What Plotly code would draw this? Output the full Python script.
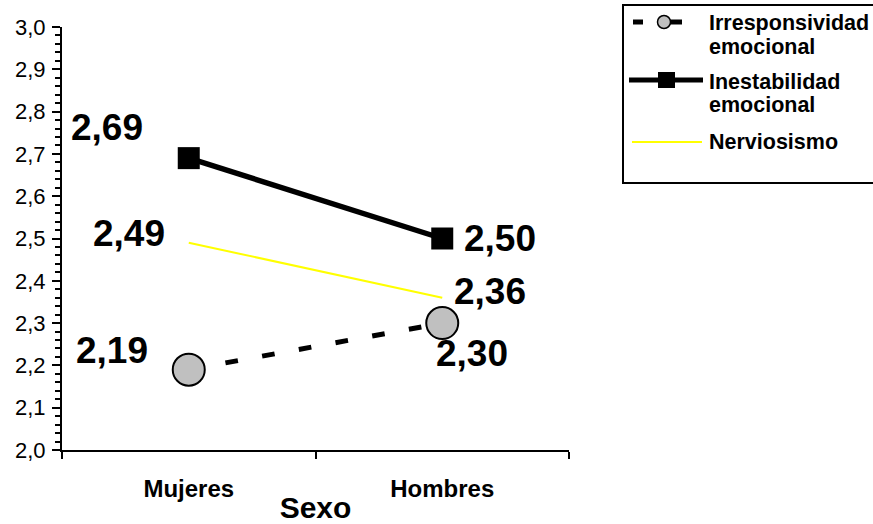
import plotly.graph_objects as go

# ---------------- data ----------------
categories = ["Mujeres", "Hombres"]
irresponsividad = [2.19, 2.30]
inestabilidad = [2.69, 2.50]
nerviosismo = [2.49, 2.36]
series_names = ["Irresponsividad<br>emocional", "Inestabilidad<br>emocional", "Nerviosismo"]
x_title = "Sexo"
y_range = [2.0, 3.0]

# ---------------- geometry ----------------
W, H = 873, 524
L, R, T, B = 62, 304, 27, 74
PW, PH = W - L - R, H - T - B
FONT = "Liberation Sans, Arial, sans-serif"


def pxx(x):
    return (x - L) / PW


def pxy(y):
    return (H - B - y) / PH


def fmt(v):
    return f"{v:.2f}".replace(".", ",")


fig = go.Figure()

fig.add_trace(go.Scatter(
    x=categories, y=nerviosismo, mode="lines", name=series_names[2],
    line=dict(color="#FFFF00", width=2), showlegend=False))
fig.add_trace(go.Scatter(
    x=categories, y=irresponsividad, mode="lines+markers", name=series_names[0],
    line=dict(color="black", width=5, dash="12.7px,24.6px"),
    marker=dict(symbol="circle", size=32, color="#C0C0C0", line=dict(color="black", width=2)),
    showlegend=False))
fig.add_trace(go.Scatter(
    x=categories, y=inestabilidad, mode="lines+markers", name=series_names[1],
    line=dict(color="black", width=5.5),
    marker=dict(symbol="square", size=22, color="black", line=dict(color="black", width=0)),
    showlegend=False))

# data labels
label_shifts = {
    "irr": [(-76.5, 19.6), (30, -30.5)],
    "ine": [(-81.5, 31), (58, 0)],
    "ner": [(-59.5, 9.7), (48, 6)],
}
annotations = []
for key, vals in (("irr", irresponsividad), ("ine", inestabilidad), ("ner", nerviosismo)):
    for i, v in enumerate(vals):
        dx, dy = label_shifts[key][i]
        annotations.append(dict(
            x=categories[i], y=v, xref="x", yref="y", text=f"<b>{fmt(v)}</b>",
            showarrow=False, xshift=dx, yshift=dy,
            font=dict(family=FONT, size=37, color="black")))

# legend (drawn manually to mimic the original box)
legend_text_pos = [(707, 23, "Irresponsividad"), (707, 47, "emocional"),
                   (707, 82, "Inestabilidad"), (707, 105, "emocional"),
                   (707, 142, "Nerviosismo")]
for x0, y0, txt in legend_text_pos:
    annotations.append(dict(
        x=pxx(x0), y=pxy(y0), xref="paper", yref="paper", xanchor="left", yanchor="middle",
        text=f"<b>{txt}</b>", showarrow=False,
        font=dict(family=FONT, size=21.5, color="black")))

shapes = [
    dict(type="rect", xref="paper", yref="paper", x0=pxx(623), x1=pxx(885), y0=pxy(5), y1=pxy(183),
         line=dict(color="black", width=2), fillcolor="rgba(0,0,0,0)"),
    # irresponsividad glyph
    dict(type="line", xref="paper", yref="paper", x0=pxx(633), x1=pxx(643), y0=pxy(22), y1=pxy(22),
         line=dict(color="black", width=5)),
    dict(type="line", xref="paper", yref="paper", x0=pxx(668), x1=pxx(682), y0=pxy(22), y1=pxy(22),
         line=dict(color="black", width=5)),
    dict(type="circle", xref="paper", yref="paper", x0=pxx(657.5), x1=pxx(670.5), y0=pxy(15.5), y1=pxy(28.5),
         line=dict(color="black", width=1.5), fillcolor="#C0C0C0"),
    # inestabilidad glyph
    dict(type="line", xref="paper", yref="paper", x0=pxx(629), x1=pxx(703), y0=pxy(80), y1=pxy(80),
         line=dict(color="black", width=5)),
    dict(type="rect", xref="paper", yref="paper", x0=pxx(658), x1=pxx(675), y0=pxy(72), y1=pxy(88),
         line=dict(color="black", width=0), fillcolor="black"),
    # nerviosismo glyph
    dict(type="line", xref="paper", yref="paper", x0=pxx(632), x1=pxx(702), y0=pxy(142), y1=pxy(142),
         line=dict(color="#FFFF00", width=2)),
]

fig.update_layout(
    width=W, height=H, autosize=False,
    margin=dict(l=L, r=R, t=T, b=B, pad=0, autoexpand=False),
    paper_bgcolor="white", plot_bgcolor="white",
    separators=",.",
    showlegend=False,
    font=dict(family=FONT, color="black"),
    annotations=annotations,
    shapes=shapes,
    xaxis=dict(
        type="category", categoryorder="array", categoryarray=categories,
        range=[-0.5, 1.5], tickson="boundaries", automargin=False,
        showline=True, linecolor="black", linewidth=2,
        ticks="outside", ticklen=7, tickwidth=2, tickcolor="black",
        showgrid=False, zeroline=False,
        tickfont=dict(family=FONT, size=24, color="black", weight="bold"),
        ticklabelstandoff=16,
        title=dict(text=x_title, font=dict(family=FONT, size=30, color="black", weight="bold"), standoff=0),
    ),
    xaxis2=dict(
        overlaying="x", anchor="y", type="linear", range=[-0.5, 1.5], automargin=False,
        tickmode="array", tickvals=[0, 1], ticks="inside", ticklen=7, tickwidth=2, tickcolor="black",
        showticklabels=False, showline=False, showgrid=False, zeroline=False, side="bottom",
    ),
    yaxis=dict(
        range=y_range, dtick=0.1, tick0=2.0, tickformat=".1f", automargin=False,
        showline=True, linecolor="black", linewidth=2,
        ticks="outside", ticklen=8, tickwidth=2, tickcolor="black",
        minor=dict(dtick=0.02, ticks="outside", ticklen=5, tickwidth=2, tickcolor="black", showgrid=False),
        showgrid=False, zeroline=False,
        tickfont=dict(family=FONT, size=22, color="black"),
        ticklabelstandoff=2,
    ),
    yaxis2=dict(
        overlaying="y", anchor="x", range=y_range, side="left", automargin=False,
        showticklabels=False, ticks="", showline=False, showgrid=False, zeroline=False,
        minor=dict(dtick=0.02, tick0=2.0, ticks="inside", ticklen=2, tickwidth=2, tickcolor="black", showgrid=False),
    ),
)

fig.write_html("out.html", config={"displayModeBar": False},
               post_script="document.body.style.margin='0';document.body.style.overflow='hidden';")
